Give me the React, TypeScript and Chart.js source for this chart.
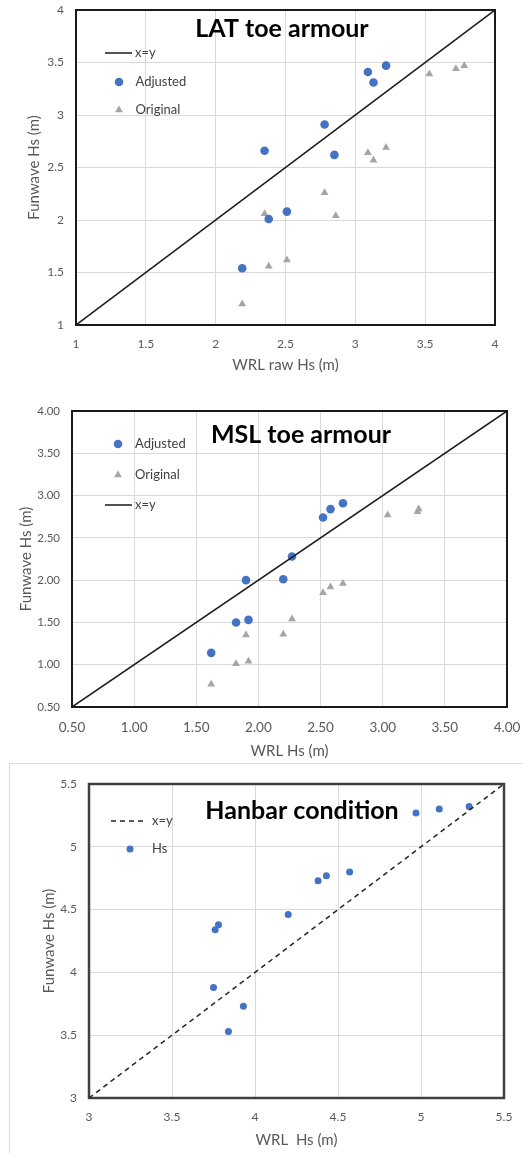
import React, { useEffect, useRef } from 'react';
import { Chart, registerables } from 'chart.js';

Chart.register(...registerables);

const FONT = 'Lato, "Open Sans", sans-serif';
const BLUE = '#4472C4';
const GREY = '#A5A5A5';

// ---- Chart 1: LAT toe armour ----
const latAdjX = [2.19, 2.35, 2.38, 2.51, 2.78, 2.85, 3.09, 3.13, 3.22];
const latAdjY = [1.54, 2.66, 2.01, 2.08, 2.91, 2.62, 3.41, 3.31, 3.47];
const latOrigX = [2.19, 2.35, 2.38, 2.51, 2.78, 2.86, 3.09, 3.13, 3.22, 3.53, 3.72, 3.78];
const latOrigY = [1.2, 2.06, 1.56, 1.62, 2.26, 2.04, 2.64, 2.57, 2.69, 3.39, 3.44, 3.47];
const latTicks = [1, 1.5, 2, 2.5, 3, 3.5, 4];
const latLine = [1, 4];

// ---- Chart 2: MSL toe armour ----
const mslAdjX = [1.62, 1.82, 1.9, 1.92, 2.2, 2.27, 2.52, 2.58, 2.68];
const mslAdjY = [1.14, 1.5, 2.0, 1.53, 2.01, 2.28, 2.74, 2.84, 2.91];
const mslOrigX = [1.62, 1.82, 1.9, 1.92, 2.2, 2.27, 2.52, 2.58, 2.68, 3.04, 3.28, 3.29];
const mslOrigY = [0.77, 1.01, 1.35, 1.04, 1.36, 1.54, 1.85, 1.92, 1.96, 2.77, 2.81, 2.84];
const mslTicks = [0.5, 1, 1.5, 2, 2.5, 3, 3.5, 4];
const mslLine = [0.5, 4];

// ---- Chart 3: Hanbar condition ----
const hanX = [3.75, 3.76, 3.78, 3.84, 3.93, 4.2, 4.38, 4.43, 4.57, 4.97, 5.11, 5.29];
const hanY = [3.88, 4.34, 4.38, 3.53, 3.73, 4.46, 4.73, 4.77, 4.8, 5.27, 5.3, 5.32];
const hanTicks = [3, 3.5, 4, 4.5, 5, 5.5];
const hanLine = [3, 5.5];

const pts = (xs: number[], ys: number[]) => xs.map((x, i) => ({ x, y: ys[i] }));

type LegendItem = { ds: number; kind: 'line' | 'point'; x: number; y: number; text: string; x2?: number; tx: number };

type Spec = {
  top: number;
  height: number;
  datasets: any[];
  ticks: number[];
  fmt: (v: number) => string;
  pad: { top: number; right: number };
  yAxisW: number;
  xAxisH: number;
  xTickSize: number;
  yTickSize: number;
  xTickPad: number;
  yTickPad: number;
  xTitle: string;
  yTitle: string;
  xTitlePad: number;
  yTitlePad: number;
  titleSize: number;
  title: string;
  titleX: number;
  titleY: number;
  frameColor: string;
  frameWidth: number;
  legend: LegendItem[];
};

function drawMarker(ctx: CanvasRenderingContext2D, ds: any, x: number, y: number) {
  const r = ds.pointRadius;
  ctx.save();
  ctx.fillStyle = ds.pointBackgroundColor;
  ctx.beginPath();
  if (ds.pointStyle === 'triangle') {
    let rad = 0;
    ctx.moveTo(x + Math.sin(rad) * r, y - Math.cos(rad) * r);
    rad += (2 * Math.PI) / 3;
    ctx.lineTo(x + Math.sin(rad) * r, y - Math.cos(rad) * r);
    rad += (2 * Math.PI) / 3;
    ctx.lineTo(x + Math.sin(rad) * r, y - Math.cos(rad) * r);
    ctx.closePath();
  } else {
    ctx.arc(x, y, r, 0, Math.PI * 2);
  }
  ctx.fill();
  ctx.restore();
}

function makeOverlay(s: Spec) {
  return {
    id: 'overlay',
    beforeDatasetsDraw(chart: any) {
      const { ctx, chartArea: a } = chart;
      ctx.save();
      ctx.strokeStyle = s.frameColor;
      ctx.lineWidth = s.frameWidth;
      ctx.strokeRect(a.left, a.top, a.right - a.left, a.bottom - a.top);
      ctx.restore();
    },
    afterDraw(chart: any) {
      const ctx: CanvasRenderingContext2D = chart.ctx;
      ctx.save();
      ctx.fillStyle = '#000000';
      ctx.font = `bold ${s.titleSize}px ${FONT}`;
      ctx.textAlign = 'center';
      ctx.textBaseline = 'alphabetic';
      ctx.fillText(s.title, s.titleX, s.titleY);
      ctx.font = `13px ${FONT}`;
      ctx.textAlign = 'left';
      ctx.textBaseline = 'middle';
      for (const it of s.legend) {
        const ds = chart.data.datasets[it.ds];
        if (it.kind === 'line') {
          ctx.save();
          ctx.strokeStyle = ds.borderColor;
          ctx.lineWidth = ds.borderWidth;
          ctx.setLineDash(ds.borderDash || []);
          ctx.beginPath();
          ctx.moveTo(it.x, it.y);
          ctx.lineTo(it.x2 as number, it.y);
          ctx.stroke();
          ctx.restore();
        } else {
          drawMarker(ctx, ds, it.x, it.y);
        }
        ctx.fillStyle = '#404040';
        ctx.fillText(it.text, it.tx, it.y);
      }
      ctx.restore();
    },
  };
}

function buildConfig(s: Spec): any {
  const axis = (isX: boolean) => ({
    type: 'linear',
    min: s.ticks[0],
    max: s.ticks[s.ticks.length - 1],
    afterBuildTicks: (sc: any) => {
      sc.ticks = s.ticks.map((v) => ({ value: v }));
    },
    afterFit: (sc: any) => {
      if (isX) sc.height = s.xAxisH;
      else sc.width = s.yAxisW;
      sc.paddingTop = 0;
      sc.paddingBottom = 0;
      sc.paddingLeft = 0;
      sc.paddingRight = 0;
    },
    grid: { color: '#D9D9D9', lineWidth: 1, drawTicks: false },
    border: { display: false },
    ticks: {
      padding: isX ? s.xTickPad : s.yTickPad,
      color: '#595959',
      font: { family: FONT, size: isX ? s.xTickSize : s.yTickSize },
      autoSkip: false,
      maxRotation: 0,
      callback: (v: number) => s.fmt(v),
    },
    title: {
      display: true,
      text: isX ? s.xTitle : s.yTitle,
      color: '#595959',
      font: { family: FONT, size: 15 },
      padding: isX ? { top: 0, bottom: s.xTitlePad } : { top: s.yTitlePad, bottom: 0 },
    },
  });
  return {
    type: 'scatter',
    data: { datasets: s.datasets },
    options: {
      animation: false,
      responsive: false,
      layout: { padding: { left: 0, right: s.pad.right, top: s.pad.top, bottom: 0 } },
      plugins: { legend: { display: false }, tooltip: { enabled: false } },
      scales: { x: axis(true), y: axis(false) },
    },
    plugins: [makeOverlay(s)],
  };
}

function ScatterPanel({ spec }: { spec: Spec }) {
  const ref = useRef<HTMLCanvasElement>(null);
  useEffect(() => {
    const chart = new Chart(ref.current as HTMLCanvasElement, buildConfig(spec));
    return () => chart.destroy();
  }, []);
  return (
    <div style={{ position: 'absolute', left: 0, top: spec.top, width: 523, height: spec.height }}>
      <canvas ref={ref} width={523} height={spec.height} style={{ display: 'block' }} />
    </div>
  );
}

const lineDs = (ends: number[], dash?: number[]) => ({
  label: 'x=y',
  data: ends.map((v) => ({ x: v, y: v })),
  showLine: true,
  borderColor: dash ? '#262626' : '#1A1A1A',
  borderWidth: 1.5,
  borderDash: dash || [],
  pointRadius: 0,
  order: 0,
});

const pointDs = (label: string, xs: number[], ys: number[], color: string, style: string, r: number) => ({
  label,
  data: pts(xs, ys),
  pointStyle: style,
  pointRadius: r,
  pointBackgroundColor: color,
  pointBorderWidth: 0,
  borderColor: color,
  backgroundColor: color,
  showLine: false,
  order: 1,
});

const spec1: Spec = {
  top: 0,
  height: 380,
  datasets: [
    lineDs(latLine),
    pointDs('Adjusted', latAdjX, latAdjY, BLUE, 'circle', 4.3),
    pointDs('Original', latOrigX, latOrigY, GREY, 'triangle', 4.5),
  ],
  ticks: latTicks,
  fmt: (v) => String(v),
  pad: { top: 10, right: 28 },
  yAxisW: 76,
  xAxisH: 55,
  xTickSize: 12,
  yTickSize: 12,
  xTickPad: 12,
  yTickPad: 12,
  xTitle: 'WRL raw Hs (m)',
  yTitle: 'Funwave Hs (m)',
  xTitlePad: 6,
  yTitlePad: 25,
  titleSize: 25,
  title: 'LAT toe armour',
  titleX: 282,
  titleY: 36.5,
  frameColor: '#1A1A1A',
  frameWidth: 2,
  legend: [
    { ds: 0, kind: 'line', x: 105, x2: 132, y: 53, tx: 135, text: 'x=y' },
    { ds: 1, kind: 'point', x: 119, y: 82, tx: 135.5, text: 'Adjusted' },
    { ds: 2, kind: 'point', x: 119, y: 110, tx: 135.5, text: 'Original' },
  ],
};

const spec2: Spec = {
  top: 380,
  height: 380,
  datasets: [
    lineDs(mslLine),
    pointDs('Adjusted', mslAdjX, mslAdjY, BLUE, 'circle', 4.3),
    pointDs('Original', mslOrigX, mslOrigY, GREY, 'triangle', 4.5),
  ],
  ticks: mslTicks,
  fmt: (v) => v.toFixed(2),
  pad: { top: 31, right: 16 },
  yAxisW: 72,
  xAxisH: 53,
  xTickSize: 13.5,
  yTickSize: 11.5,
  xTickPad: 13,
  yTickPad: 12,
  xTitle: 'WRL Hs (m)',
  yTitle: 'Funwave Hs (m)',
  xTitlePad: 0,
  yTitlePad: 17,
  titleSize: 25,
  title: 'MSL toe armour',
  titleX: 301,
  titleY: 63,
  frameColor: '#1A1A1A',
  frameWidth: 2,
  legend: [
    { ds: 1, kind: 'point', x: 118, y: 64, tx: 135, text: 'Adjusted' },
    { ds: 2, kind: 'point', x: 118, y: 95, tx: 135, text: 'Original' },
    { ds: 0, kind: 'line', x: 105, x2: 132, y: 125, tx: 135, text: 'x=y' },
  ],
};

const spec3: Spec = {
  top: 760,
  height: 393,
  datasets: [
    lineDs(hanLine, [5, 4]),
    pointDs('Hs', hanX, hanY, BLUE, 'circle', 3.5),
  ],
  ticks: hanTicks,
  fmt: (v) => String(v),
  pad: { top: 24, right: 19 },
  yAxisW: 89,
  xAxisH: 55,
  xTickSize: 12,
  yTickSize: 12,
  xTickPad: 12,
  yTickPad: 12,
  xTitle: 'WRL  Hs (m)',
  yTitle: 'Funwave Hs (m)',
  xTitlePad: 4,
  yTitlePad: 40,
  titleSize: 25,
  title: 'Hanbar condition',
  titleX: 302,
  titleY: 59,
  frameColor: '#404040',
  frameWidth: 2.5,
  legend: [
    { ds: 0, kind: 'line', x: 111, x2: 147, y: 61, tx: 152, text: 'x=y' },
    { ds: 1, kind: 'point', x: 130, y: 89, tx: 152, text: 'Hs' },
  ],
};

export default function App() {
  return (
    <div style={{ position: 'absolute', left: 0, top: 0, width: 523, height: 1153, overflow: 'hidden', background: '#ffffff' }}>
      <ScatterPanel spec={spec1} />
      <ScatterPanel spec={spec2} />
      <div
        style={{
          position: 'absolute',
          left: 9,
          top: 763,
          width: 514,
          height: 390,
          borderLeft: '1px solid #D9D9D9',
          borderTop: '1px solid #D9D9D9',
        }}
      />
      <ScatterPanel spec={spec3} />
    </div>
  );
}
